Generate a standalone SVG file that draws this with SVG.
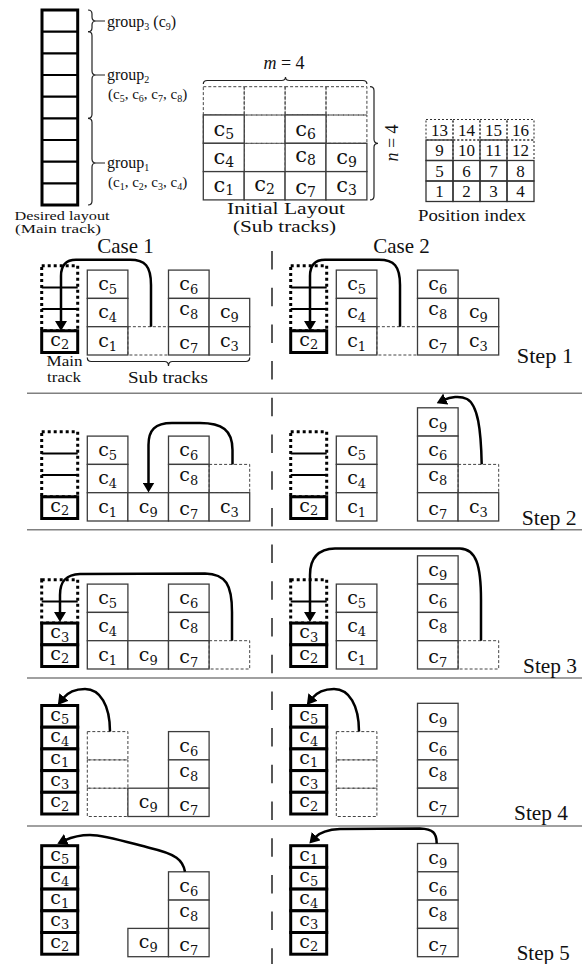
<svg xmlns="http://www.w3.org/2000/svg" width="585" height="964" viewBox="0 0 585 964">
<defs>
<marker id="ah" viewBox="0 0 10 12" markerWidth="10" markerHeight="12" refX="2" refY="6" orient="auto" markerUnits="userSpaceOnUse"><path d="M0,0 L10,6 L0,12 z" fill="#000"/></marker>
</defs>
<style>
.t{font-family:"Liberation Serif","Times New Roman",serif;fill:#111}
.c{font-family:"DejaVu Serif",serif;font-size:19px;text-anchor:middle;fill:#111}
.ci{font-family:"DejaVu Serif",serif;font-size:21px;text-anchor:middle;fill:#111}
.s{font-size:13px}
.si{font-size:14px}
.g{font-size:10px}
.sc{fill:#fff;stroke:#3c3c3c;stroke-width:1.3}
.dc{fill:none;stroke:#444;stroke-width:1;stroke-dasharray:3 2}
.mc{fill:#fff;stroke:#000;stroke-width:3}
.md{fill:none;stroke:#000;stroke-width:3;stroke-dasharray:3 3}
.ml{stroke:#000;stroke-width:2}
.arr{fill:none;stroke:#000;stroke-width:2.5;marker-end:url(#ah)}
.br{fill:none;stroke:#222;stroke-width:1.2}
.sep{stroke:#808080;stroke-width:1.6}
.div{stroke:#222;stroke-width:1.5;stroke-dasharray:18.5 18.2}
.pd{fill:none;stroke:#333;stroke-width:1.1;stroke-dasharray:2 2}
.ps{fill:none;stroke:#333;stroke-width:1.3}
.n{font-family:"Liberation Serif",serif;font-size:17px;text-anchor:middle;fill:#111}
</style>

<!-- ===== Top: desired layout ===== -->
<g id="desired-layout">
<rect x="42" y="10" width="35.7" height="195" fill="#fff" stroke="#000" stroke-width="3"/>
<path d="M42,31.7H77.7M42,53.3H77.7M42,75H77.7M42,96.7H77.7M42,118.3H77.7M42,140H77.7M42,161.7H77.7M42,183.3H77.7" stroke="#000" stroke-width="2.2"/>
<text class="t" x="62" y="219.5" font-size="13" text-anchor="middle" textLength="95" lengthAdjust="spacingAndGlyphs">Desired layout</text>
<text class="t" x="58" y="233" font-size="12" text-anchor="middle" textLength="86" lengthAdjust="spacingAndGlyphs">(Main track)</text>
</g>
<g id="group3">
<path class="br" d="M88,10 Q92,10 92,14 L92,17 Q92,21 96,21 Q92,21 92,25 L92,27.7 Q92,31.7 88,31.7 M96,21 L105,21"/>
<text class="t" x="107" y="26.5" font-size="16">group<tspan class="g" dy="3">3</tspan><tspan dy="-3"> (c</tspan><tspan class="g" dy="3">9</tspan><tspan dy="-3">)</tspan></text>
</g>
<g id="group2">
<path class="br" d="M88,31.7 Q92,31.7 92,35.7 L92,71 Q92,75 96,75 Q92,75 92,79 L92,114.3 Q92,118.3 88,118.3 M96,75 L105,75"/>
<text class="t" x="107" y="80" font-size="16">group<tspan class="g" dy="3">2</tspan></text>
<text class="t" x="108" y="99" font-size="15">(c<tspan class="g" dy="3">5</tspan><tspan dy="-3">, c</tspan><tspan class="g" dy="3">6</tspan><tspan dy="-3">, c</tspan><tspan class="g" dy="3">7</tspan><tspan dy="-3">, c</tspan><tspan class="g" dy="3">8</tspan><tspan dy="-3">)</tspan></text>
</g>
<g id="group1">
<path class="br" d="M88,118.3 Q92,118.3 92,122.3 L92,159 Q92,163 96,163 Q92,163 92,167 L92,201 Q92,205 88,205 M96,163 L105,163"/>
<text class="t" x="107" y="168" font-size="16">group<tspan class="g" dy="3">1</tspan></text>
<text class="t" x="108" y="187" font-size="15">(c<tspan class="g" dy="3">1</tspan><tspan dy="-3">, c</tspan><tspan class="g" dy="3">2</tspan><tspan dy="-3">, c</tspan><tspan class="g" dy="3">3</tspan><tspan dy="-3">, c</tspan><tspan class="g" dy="3">4</tspan><tspan dy="-3">)</tspan></text>
</g>

<!-- ===== Top: initial layout ===== -->
<g id="initial-layout">
<g>
<rect class="dc" x="203.3" y="86.7" width="40.9" height="28.3"/><rect class="dc" x="244.2" y="86.7" width="40.9" height="28.3"/><rect class="dc" x="285.1" y="86.7" width="40.9" height="28.3"/><rect class="dc" x="326" y="86.7" width="40.9" height="28.3"/>
<rect class="dc" x="203.3" y="115" width="40.9" height="28.3"/><rect class="dc" x="244.2" y="115" width="40.9" height="28.3"/><rect class="dc" x="285.1" y="115" width="40.9" height="28.3"/><rect class="dc" x="326" y="115" width="40.9" height="28.3"/>
<rect class="dc" x="244.2" y="143.3" width="40.9" height="28.3"/>
</g>
<g id="il-c5"><rect class="sc" x="203.3" y="115" width="40.9" height="28.3"/><text class="ci" x="223.8" y="135.5">c<tspan class="si" dy="3">5</tspan></text></g>
<g id="il-c6"><rect class="sc" x="285.1" y="115" width="40.9" height="28.3"/><text class="ci" x="305.6" y="135.5">c<tspan class="si" dy="3">6</tspan></text></g>
<g id="il-c4"><rect class="sc" x="203.3" y="143.3" width="40.9" height="28.3"/><text class="ci" x="223.8" y="163.8">c<tspan class="si" dy="3">4</tspan></text></g>
<g id="il-c8"><rect class="sc" x="285.1" y="143.3" width="40.9" height="28.3"/><text class="ci" x="305.6" y="161.8">c<tspan class="si" dy="3">8</tspan></text></g>
<g id="il-c9"><rect class="sc" x="326" y="143.3" width="40.9" height="28.3"/><text class="ci" x="346.5" y="163.8">c<tspan class="si" dy="3">9</tspan></text></g>
<g id="il-c1"><rect class="sc" x="203.3" y="171.6" width="40.9" height="28.3"/><text class="ci" x="223.8" y="192.1">c<tspan class="si" dy="3">1</tspan></text></g>
<g id="il-c2"><rect class="sc" x="244.2" y="171.6" width="40.9" height="28.3"/><text class="ci" x="264.7" y="191.1">c<tspan class="si" dy="3">2</tspan></text></g>
<g id="il-c7"><rect class="sc" x="285.1" y="171.6" width="40.9" height="28.3"/><text class="ci" x="305.6" y="194.1">c<tspan class="si" dy="3">7</tspan></text></g>
<g id="il-c3"><rect class="sc" x="326" y="171.6" width="40.9" height="28.3"/><text class="ci" x="346.5" y="192.1">c<tspan class="si" dy="3">3</tspan></text></g>
<path class="br" d="M203.3,84 Q203.3,80.5 207.3,80.5 L281.5,80.5 Q285.5,80.5 285.5,77 Q285.5,80.5 289.5,80.5 L362.9,80.5 Q366.9,80.5 366.9,84"/>
<text class="t" x="284" y="69" font-size="18" text-anchor="middle"><tspan font-style="italic">m</tspan> = 4</text>
<path class="br" d="M370,86.7 Q374,86.7 374,90.7 L374,139.3 Q374,143.3 378,143.3 Q374,143.3 374,147.3 L374,195.9 Q374,199.9 370,199.9"/>
<text class="t" transform="translate(398,143) rotate(-90)" font-size="18" text-anchor="middle"><tspan font-style="italic">n</tspan> = 4</text>
<text class="t" x="286" y="213.5" font-size="16" text-anchor="middle" textLength="118" lengthAdjust="spacingAndGlyphs">Initial Layout</text>
<text class="t" x="284.5" y="231.5" font-size="16" text-anchor="middle" textLength="103" lengthAdjust="spacingAndGlyphs">(Sub tracks)</text>
</g>

<!-- ===== Top: position index ===== -->
<g id="position-index">
<rect class="pd" x="426" y="119.5" width="27" height="20.5"/><rect class="pd" x="453" y="119.5" width="27" height="20.5"/><rect class="pd" x="480" y="119.5" width="27" height="20.5"/><rect class="pd" x="507" y="119.5" width="27" height="20.5"/>
<rect class="pd" x="453" y="140" width="27" height="20.5"/><rect class="pd" x="507" y="140" width="27" height="20.5"/>
<rect class="ps" x="426" y="140" width="27" height="20.5"/><rect class="ps" x="480" y="140" width="27" height="20.5"/>
<rect class="ps" x="426" y="160.5" width="27" height="20.5"/><rect class="ps" x="453" y="160.5" width="27" height="20.5"/><rect class="ps" x="480" y="160.5" width="27" height="20.5"/><rect class="ps" x="507" y="160.5" width="27" height="20.5"/>
<rect class="ps" x="426" y="181" width="27" height="20.5"/><rect class="ps" x="453" y="181" width="27" height="20.5"/><rect class="ps" x="480" y="181" width="27" height="20.5"/><rect class="ps" x="507" y="181" width="27" height="20.5"/>
<text class="n" x="439.5" y="136">13</text><text class="n" x="466.5" y="136">14</text><text class="n" x="493.5" y="136">15</text><text class="n" x="520.5" y="136">16</text>
<text class="n" x="439.5" y="156">9</text><text class="n" x="466.5" y="156">10</text><text class="n" x="493.5" y="156">11</text><text class="n" x="520.5" y="156">12</text>
<text class="n" x="439.5" y="176.5">5</text><text class="n" x="466.5" y="176.5">6</text><text class="n" x="493.5" y="176.5">7</text><text class="n" x="520.5" y="176.5">8</text>
<text class="n" x="439.5" y="197">1</text><text class="n" x="466.5" y="197">2</text><text class="n" x="493.5" y="197">3</text><text class="n" x="520.5" y="197">4</text>
<text class="t" x="472" y="220.7" font-size="16" text-anchor="middle" textLength="108" lengthAdjust="spacingAndGlyphs">Position index</text>
</g>

<!-- ===== dividers and labels ===== -->
<g id="frame">
<line class="div" x1="272" y1="251" x2="272" y2="964"/>
<line class="sep" x1="27" y1="393.3" x2="582" y2="393.3"/>
<line class="sep" x1="27" y1="529.7" x2="582" y2="529.7"/>
<line class="sep" x1="27" y1="678" x2="582" y2="678"/>
<line class="sep" x1="27" y1="826" x2="582" y2="826"/>
<text class="t" x="125.5" y="253" font-size="21" text-anchor="middle">Case 1</text>
<text class="t" x="401.5" y="253" font-size="21" text-anchor="middle">Case 2</text>
<text class="t" x="516.7" y="363" font-size="21" textLength="56.6" lengthAdjust="spacingAndGlyphs">Step 1</text>
<text class="t" x="521.7" y="525" font-size="21" textLength="55" lengthAdjust="spacingAndGlyphs">Step 2</text>
<text class="t" x="523" y="673" font-size="21" textLength="54" lengthAdjust="spacingAndGlyphs">Step 3</text>
<text class="t" x="514" y="820" font-size="21" textLength="54" lengthAdjust="spacingAndGlyphs">Step 4</text>
<text class="t" x="516.7" y="960" font-size="21" textLength="53" lengthAdjust="spacingAndGlyphs">Step 5</text>
</g>

<!-- ===== Step 1 ===== -->
<g id="s1-case1">
<g id="s1a-main"><rect class="md" x="41.7" y="265.7" width="36" height="65.1"/><path class="ml" d="M41.7,287.4H77.7M41.7,309.1H77.7"/>
<rect class="mc" x="41.7" y="330.8" width="36" height="21.7"/><text class="c" x="59.7" y="345.8">c<tspan class="s" dy="3.5">2</tspan></text></g>
<g id="s1a-c5"><rect class="sc" x="87.3" y="270.1" width="40.6" height="28.3"/><text class="c" x="107.6" y="290.1">c<tspan class="s" dy="4">5</tspan></text></g>
<g id="s1a-c4"><rect class="sc" x="87.3" y="298.4" width="40.6" height="28.3"/><text class="c" x="107.6" y="318.4">c<tspan class="s" dy="4">4</tspan></text></g>
<g id="s1a-c1"><rect class="sc" x="87.3" y="326.7" width="40.6" height="28.3"/><text class="c" x="107.6" y="346.7">c<tspan class="s" dy="4">1</tspan></text></g>
<rect class="dc" x="127.9" y="326.7" width="40.6" height="28.3"/>
<g id="s1a-c6"><rect class="sc" x="168.5" y="270.1" width="40.6" height="28.3"/><text class="c" x="188.8" y="290.1">c<tspan class="s" dy="4">6</tspan></text></g>
<g id="s1a-c8"><rect class="sc" x="168.5" y="298.4" width="40.6" height="28.3"/><text class="c" x="188.8" y="315.4">c<tspan class="s" dy="4">8</tspan></text></g>
<g id="s1a-c7"><rect class="sc" x="168.5" y="326.7" width="40.6" height="28.3"/><text class="c" x="188.8" y="349.2">c<tspan class="s" dy="4">7</tspan></text></g>
<g id="s1a-c9"><rect class="sc" x="209.1" y="298.4" width="40.6" height="28.3"/><text class="c" x="229.4" y="318.4">c<tspan class="s" dy="4">9</tspan></text></g>
<g id="s1a-c3"><rect class="sc" x="209.1" y="326.7" width="40.6" height="28.3"/><text class="c" x="229.4" y="346.7">c<tspan class="s" dy="4">3</tspan></text></g>
<text class="t" x="64.5" y="366" font-size="14" text-anchor="middle" textLength="36" lengthAdjust="spacingAndGlyphs">Main</text>
<text class="t" x="64" y="382" font-size="14" text-anchor="middle" textLength="34" lengthAdjust="spacingAndGlyphs">track</text>
<path class="br" d="M87.3,357.5 Q87.3,361.5 91.3,361.5 L164.5,361.5 Q168.5,361.5 168.5,366 Q168.5,361.5 172.5,361.5 L245.7,361.5 Q249.7,361.5 249.7,357.5"/>
<text class="t" x="168" y="383" font-size="17" text-anchor="middle" textLength="80" lengthAdjust="spacingAndGlyphs">Sub tracks</text>
</g>
<g id="s1-case2">
<g id="s1b-main"><rect class="md" x="290.7" y="265.7" width="36" height="65.1"/><path class="ml" d="M290.7,287.4H326.7M290.7,309.1H326.7"/>
<rect class="mc" x="290.7" y="330.8" width="36" height="21.7"/><text class="c" x="308.7" y="345.8">c<tspan class="s" dy="3.5">2</tspan></text></g>
<g id="s1b-c5"><rect class="sc" x="336.3" y="270.1" width="40.6" height="28.3"/><text class="c" x="356.6" y="290.1">c<tspan class="s" dy="4">5</tspan></text></g>
<g id="s1b-c4"><rect class="sc" x="336.3" y="298.4" width="40.6" height="28.3"/><text class="c" x="356.6" y="318.4">c<tspan class="s" dy="4">4</tspan></text></g>
<g id="s1b-c1"><rect class="sc" x="336.3" y="326.7" width="40.6" height="28.3"/><text class="c" x="356.6" y="346.7">c<tspan class="s" dy="4">1</tspan></text></g>
<rect class="dc" x="376.9" y="326.7" width="40.6" height="28.3"/>
<g id="s1b-c6"><rect class="sc" x="417.5" y="270.1" width="40.6" height="28.3"/><text class="c" x="437.8" y="290.1">c<tspan class="s" dy="4">6</tspan></text></g>
<g id="s1b-c8"><rect class="sc" x="417.5" y="298.4" width="40.6" height="28.3"/><text class="c" x="437.8" y="315.4">c<tspan class="s" dy="4">8</tspan></text></g>
<g id="s1b-c7"><rect class="sc" x="417.5" y="326.7" width="40.6" height="28.3"/><text class="c" x="437.8" y="349.2">c<tspan class="s" dy="4">7</tspan></text></g>
<g id="s1b-c9"><rect class="sc" x="458.1" y="298.4" width="40.6" height="28.3"/><text class="c" x="478.4" y="318.4">c<tspan class="s" dy="4">9</tspan></text></g>
<g id="s1b-c3"><rect class="sc" x="458.1" y="326.7" width="40.6" height="28.3"/><text class="c" x="478.4" y="346.7">c<tspan class="s" dy="4">3</tspan></text></g>
</g>

<!-- ===== Step 2 ===== -->
<g id="s2-case1">
<g id="s2a-main"><rect class="md" x="41.7" y="431.7" width="36" height="65.1"/><path class="ml" d="M41.7,453.4H77.7M41.7,475.1H77.7"/>
<rect class="mc" x="41.7" y="496.8" width="36" height="21.7"/><text class="c" x="59.7" y="511.8">c<tspan class="s" dy="3.5">2</tspan></text></g>
<g id="s2a-c5"><rect class="sc" x="87.3" y="436.1" width="40.6" height="28.3"/><text class="c" x="107.6" y="456.1">c<tspan class="s" dy="4">5</tspan></text></g>
<g id="s2a-c4"><rect class="sc" x="87.3" y="464.4" width="40.6" height="28.3"/><text class="c" x="107.6" y="484.4">c<tspan class="s" dy="4">4</tspan></text></g>
<g id="s2a-c1"><rect class="sc" x="87.3" y="492.7" width="40.6" height="28.3"/><text class="c" x="107.6" y="512.7">c<tspan class="s" dy="4">1</tspan></text></g>
<g id="s2a-c9"><rect class="sc" x="127.9" y="492.7" width="40.6" height="28.3"/><text class="c" x="148.2" y="512.7">c<tspan class="s" dy="4">9</tspan></text></g>
<g id="s2a-c6"><rect class="sc" x="168.5" y="436.1" width="40.6" height="28.3"/><text class="c" x="188.8" y="456.1">c<tspan class="s" dy="4">6</tspan></text></g>
<g id="s2a-c8"><rect class="sc" x="168.5" y="464.4" width="40.6" height="28.3"/><text class="c" x="188.8" y="481.4">c<tspan class="s" dy="4">8</tspan></text></g>
<g id="s2a-c7"><rect class="sc" x="168.5" y="492.7" width="40.6" height="28.3"/><text class="c" x="188.8" y="515.2">c<tspan class="s" dy="4">7</tspan></text></g>
<rect class="dc" x="209.1" y="464.4" width="40.6" height="28.3"/>
<g id="s2a-c3"><rect class="sc" x="209.1" y="492.7" width="40.6" height="28.3"/><text class="c" x="229.4" y="512.7">c<tspan class="s" dy="4">3</tspan></text></g>
</g>
<g id="s2-case2">
<g id="s2b-main"><rect class="md" x="290.7" y="431.7" width="36" height="65.1"/><path class="ml" d="M290.7,453.4H326.7M290.7,475.1H326.7"/>
<rect class="mc" x="290.7" y="496.8" width="36" height="21.7"/><text class="c" x="308.7" y="511.8">c<tspan class="s" dy="3.5">2</tspan></text></g>
<g id="s2b-c5"><rect class="sc" x="336.3" y="436.1" width="40.6" height="28.3"/><text class="c" x="356.6" y="456.1">c<tspan class="s" dy="4">5</tspan></text></g>
<g id="s2b-c4"><rect class="sc" x="336.3" y="464.4" width="40.6" height="28.3"/><text class="c" x="356.6" y="484.4">c<tspan class="s" dy="4">4</tspan></text></g>
<g id="s2b-c1"><rect class="sc" x="336.3" y="492.7" width="40.6" height="28.3"/><text class="c" x="356.6" y="512.7">c<tspan class="s" dy="4">1</tspan></text></g>
<g id="s2b-c9"><rect class="sc" x="417.5" y="407.8" width="40.6" height="28.3"/><text class="c" x="437.8" y="427.8">c<tspan class="s" dy="4">9</tspan></text></g>
<g id="s2b-c6"><rect class="sc" x="417.5" y="436.1" width="40.6" height="28.3"/><text class="c" x="437.8" y="456.1">c<tspan class="s" dy="4">6</tspan></text></g>
<g id="s2b-c8"><rect class="sc" x="417.5" y="464.4" width="40.6" height="28.3"/><text class="c" x="437.8" y="481.4">c<tspan class="s" dy="4">8</tspan></text></g>
<g id="s2b-c7"><rect class="sc" x="417.5" y="492.7" width="40.6" height="28.3"/><text class="c" x="437.8" y="515.2">c<tspan class="s" dy="4">7</tspan></text></g>
<rect class="dc" x="458.1" y="464.4" width="40.6" height="28.3"/>
<g id="s2b-c3"><rect class="sc" x="458.1" y="492.7" width="40.6" height="28.3"/><text class="c" x="478.4" y="512.7">c<tspan class="s" dy="4">3</tspan></text></g>
</g>

<!-- ===== Step 3 ===== -->
<g id="s3-case1">
<g id="s3a-main"><rect class="md" x="41.7" y="579.7" width="36" height="43.4"/><path class="ml" d="M41.7,601.4H77.7"/>
<rect class="mc" x="41.7" y="623.1" width="36" height="21.7"/><text class="c" x="59.7" y="638.1">c<tspan class="s" dy="3.5">3</tspan></text>
<rect class="mc" x="41.7" y="644.8" width="36" height="21.7"/><text class="c" x="59.7" y="659.8">c<tspan class="s" dy="3.5">2</tspan></text></g>
<g id="s3a-c5"><rect class="sc" x="87.3" y="584.1" width="40.6" height="28.3"/><text class="c" x="107.6" y="604.1">c<tspan class="s" dy="4">5</tspan></text></g>
<g id="s3a-c4"><rect class="sc" x="87.3" y="612.4" width="40.6" height="28.3"/><text class="c" x="107.6" y="632.4">c<tspan class="s" dy="4">4</tspan></text></g>
<g id="s3a-c1"><rect class="sc" x="87.3" y="640.7" width="40.6" height="28.3"/><text class="c" x="107.6" y="660.7">c<tspan class="s" dy="4">1</tspan></text></g>
<g id="s3a-c9"><rect class="sc" x="127.9" y="640.7" width="40.6" height="28.3"/><text class="c" x="148.2" y="660.7">c<tspan class="s" dy="4">9</tspan></text></g>
<g id="s3a-c6"><rect class="sc" x="168.5" y="584.1" width="40.6" height="28.3"/><text class="c" x="188.8" y="604.1">c<tspan class="s" dy="4">6</tspan></text></g>
<g id="s3a-c8"><rect class="sc" x="168.5" y="612.4" width="40.6" height="28.3"/><text class="c" x="188.8" y="629.4">c<tspan class="s" dy="4">8</tspan></text></g>
<g id="s3a-c7"><rect class="sc" x="168.5" y="640.7" width="40.6" height="28.3"/><text class="c" x="188.8" y="663.2">c<tspan class="s" dy="4">7</tspan></text></g>
<rect class="dc" x="209.1" y="640.7" width="40.6" height="28.3"/>
</g>
<g id="s3-case2">
<g id="s3b-main"><rect class="md" x="290.7" y="579.7" width="36" height="43.4"/><path class="ml" d="M290.7,601.4H326.7"/>
<rect class="mc" x="290.7" y="623.1" width="36" height="21.7"/><text class="c" x="308.7" y="638.1">c<tspan class="s" dy="3.5">3</tspan></text>
<rect class="mc" x="290.7" y="644.8" width="36" height="21.7"/><text class="c" x="308.7" y="659.8">c<tspan class="s" dy="3.5">2</tspan></text></g>
<g id="s3b-c5"><rect class="sc" x="336.3" y="584.1" width="40.6" height="28.3"/><text class="c" x="356.6" y="604.1">c<tspan class="s" dy="4">5</tspan></text></g>
<g id="s3b-c4"><rect class="sc" x="336.3" y="612.4" width="40.6" height="28.3"/><text class="c" x="356.6" y="632.4">c<tspan class="s" dy="4">4</tspan></text></g>
<g id="s3b-c1"><rect class="sc" x="336.3" y="640.7" width="40.6" height="28.3"/><text class="c" x="356.6" y="660.7">c<tspan class="s" dy="4">1</tspan></text></g>
<g id="s3b-c9"><rect class="sc" x="417.5" y="555.8" width="40.6" height="28.3"/><text class="c" x="437.8" y="575.8">c<tspan class="s" dy="4">9</tspan></text></g>
<g id="s3b-c6"><rect class="sc" x="417.5" y="584.1" width="40.6" height="28.3"/><text class="c" x="437.8" y="604.1">c<tspan class="s" dy="4">6</tspan></text></g>
<g id="s3b-c8"><rect class="sc" x="417.5" y="612.4" width="40.6" height="28.3"/><text class="c" x="437.8" y="629.4">c<tspan class="s" dy="4">8</tspan></text></g>
<g id="s3b-c7"><rect class="sc" x="417.5" y="640.7" width="40.6" height="28.3"/><text class="c" x="437.8" y="663.2">c<tspan class="s" dy="4">7</tspan></text></g>
<rect class="dc" x="458.1" y="640.7" width="40.6" height="28.3"/>
</g>

<!-- ===== Step 4 ===== -->
<g id="s4-case1">
<g id="s4a-main">
<rect class="mc" x="41.7" y="705.5" width="36" height="21.7"/><text class="c" x="59.7" y="720.5">c<tspan class="s" dy="3.5">5</tspan></text>
<rect class="mc" x="41.7" y="727.2" width="36" height="21.7"/><text class="c" x="59.7" y="742.2">c<tspan class="s" dy="3.5">4</tspan></text>
<rect class="mc" x="41.7" y="748.9" width="36" height="21.7"/><text class="c" x="59.7" y="763.9">c<tspan class="s" dy="3.5">1</tspan></text>
<rect class="mc" x="41.7" y="770.6" width="36" height="21.7"/><text class="c" x="59.7" y="785.6">c<tspan class="s" dy="3.5">3</tspan></text>
<rect class="mc" x="41.7" y="792.3" width="36" height="21.7"/><text class="c" x="59.7" y="807.3">c<tspan class="s" dy="3.5">2</tspan></text>
</g>
<rect class="dc" x="87.3" y="731.6" width="40.6" height="28.3"/><rect class="dc" x="87.3" y="759.9" width="40.6" height="28.3"/><rect class="dc" x="87.3" y="788.2" width="40.6" height="28.3"/>
<g id="s4a-c9"><rect class="sc" x="127.9" y="788.2" width="40.6" height="28.3"/><text class="c" x="148.2" y="808.2">c<tspan class="s" dy="4">9</tspan></text></g>
<g id="s4a-c6"><rect class="sc" x="168.5" y="731.6" width="40.6" height="28.3"/><text class="c" x="188.8" y="751.6">c<tspan class="s" dy="4">6</tspan></text></g>
<g id="s4a-c8"><rect class="sc" x="168.5" y="759.9" width="40.6" height="28.3"/><text class="c" x="188.8" y="776.9">c<tspan class="s" dy="4">8</tspan></text></g>
<g id="s4a-c7"><rect class="sc" x="168.5" y="788.2" width="40.6" height="28.3"/><text class="c" x="188.8" y="810.7">c<tspan class="s" dy="4">7</tspan></text></g>
</g>
<g id="s4-case2">
<g id="s4b-main">
<rect class="mc" x="290.7" y="705.5" width="36" height="21.7"/><text class="c" x="308.7" y="720.5">c<tspan class="s" dy="3.5">5</tspan></text>
<rect class="mc" x="290.7" y="727.2" width="36" height="21.7"/><text class="c" x="308.7" y="742.2">c<tspan class="s" dy="3.5">4</tspan></text>
<rect class="mc" x="290.7" y="748.9" width="36" height="21.7"/><text class="c" x="308.7" y="763.9">c<tspan class="s" dy="3.5">1</tspan></text>
<rect class="mc" x="290.7" y="770.6" width="36" height="21.7"/><text class="c" x="308.7" y="785.6">c<tspan class="s" dy="3.5">3</tspan></text>
<rect class="mc" x="290.7" y="792.3" width="36" height="21.7"/><text class="c" x="308.7" y="807.3">c<tspan class="s" dy="3.5">2</tspan></text>
</g>
<rect class="dc" x="336.3" y="731.6" width="40.6" height="28.3"/><rect class="dc" x="336.3" y="759.9" width="40.6" height="28.3"/><rect class="dc" x="336.3" y="788.2" width="40.6" height="28.3"/>
<g id="s4b-c9"><rect class="sc" x="417.5" y="703.3" width="40.6" height="28.3"/><text class="c" x="437.8" y="723.3">c<tspan class="s" dy="4">9</tspan></text></g>
<g id="s4b-c6"><rect class="sc" x="417.5" y="731.6" width="40.6" height="28.3"/><text class="c" x="437.8" y="751.6">c<tspan class="s" dy="4">6</tspan></text></g>
<g id="s4b-c8"><rect class="sc" x="417.5" y="759.9" width="40.6" height="28.3"/><text class="c" x="437.8" y="776.9">c<tspan class="s" dy="4">8</tspan></text></g>
<g id="s4b-c7"><rect class="sc" x="417.5" y="788.2" width="40.6" height="28.3"/><text class="c" x="437.8" y="810.7">c<tspan class="s" dy="4">7</tspan></text></g>
</g>

<!-- ===== Step 5 ===== -->
<g id="s5-case1">
<g id="s5a-main">
<rect class="mc" x="41.7" y="845.7" width="36" height="21.7"/><text class="c" x="59.7" y="860.7">c<tspan class="s" dy="3.5">5</tspan></text>
<rect class="mc" x="41.7" y="867.4" width="36" height="21.7"/><text class="c" x="59.7" y="882.4">c<tspan class="s" dy="3.5">4</tspan></text>
<rect class="mc" x="41.7" y="889.1" width="36" height="21.7"/><text class="c" x="59.7" y="904.1">c<tspan class="s" dy="3.5">1</tspan></text>
<rect class="mc" x="41.7" y="910.8" width="36" height="21.7"/><text class="c" x="59.7" y="925.8">c<tspan class="s" dy="3.5">3</tspan></text>
<rect class="mc" x="41.7" y="932.5" width="36" height="21.7"/><text class="c" x="59.7" y="947.5">c<tspan class="s" dy="3.5">2</tspan></text>
</g>
<g id="s5a-c9"><rect class="sc" x="127.9" y="928.4" width="40.6" height="28.3"/><text class="c" x="148.2" y="948.4">c<tspan class="s" dy="4">9</tspan></text></g>
<g id="s5a-c6"><rect class="sc" x="168.5" y="871.8" width="40.6" height="28.3"/><text class="c" x="188.8" y="891.8">c<tspan class="s" dy="4">6</tspan></text></g>
<g id="s5a-c8"><rect class="sc" x="168.5" y="900.1" width="40.6" height="28.3"/><text class="c" x="188.8" y="917.1">c<tspan class="s" dy="4">8</tspan></text></g>
<g id="s5a-c7"><rect class="sc" x="168.5" y="928.4" width="40.6" height="28.3"/><text class="c" x="188.8" y="950.9">c<tspan class="s" dy="4">7</tspan></text></g>
</g>
<g id="s5-case2">
<g id="s5b-main">
<rect class="mc" x="290.7" y="845.7" width="36" height="21.7"/><text class="c" x="308.7" y="860.7">c<tspan class="s" dy="3.5">1</tspan></text>
<rect class="mc" x="290.7" y="867.4" width="36" height="21.7"/><text class="c" x="308.7" y="882.4">c<tspan class="s" dy="3.5">5</tspan></text>
<rect class="mc" x="290.7" y="889.1" width="36" height="21.7"/><text class="c" x="308.7" y="904.1">c<tspan class="s" dy="3.5">4</tspan></text>
<rect class="mc" x="290.7" y="910.8" width="36" height="21.7"/><text class="c" x="308.7" y="925.8">c<tspan class="s" dy="3.5">3</tspan></text>
<rect class="mc" x="290.7" y="932.5" width="36" height="21.7"/><text class="c" x="308.7" y="947.5">c<tspan class="s" dy="3.5">2</tspan></text>
</g>
<g id="s5b-c9"><rect class="sc" x="417.5" y="843.5" width="40.6" height="28.3"/><text class="c" x="437.8" y="863.5">c<tspan class="s" dy="4">9</tspan></text></g>
<g id="s5b-c6"><rect class="sc" x="417.5" y="871.8" width="40.6" height="28.3"/><text class="c" x="437.8" y="891.8">c<tspan class="s" dy="4">6</tspan></text></g>
<g id="s5b-c8"><rect class="sc" x="417.5" y="900.1" width="40.6" height="28.3"/><text class="c" x="437.8" y="917.1">c<tspan class="s" dy="4">8</tspan></text></g>
<g id="s5b-c7"><rect class="sc" x="417.5" y="928.4" width="40.6" height="28.3"/><text class="c" x="437.8" y="950.9">c<tspan class="s" dy="4">7</tspan></text></g>
</g>

<!-- ===== connectors ===== -->
<g id="connectors">
<path class="arr" d="M151,326.7 L151,285 C151,266 145,259.7 130,259.7 L76,259.7 C66,259.7 61,265 61,276 L61,323"/>
<path class="arr" d="M400,326.7 L400,285 C400,266 394,259.7 379,259.7 L325,259.7 C315,259.7 310,265 310,276 L310,323"/>
<path class="arr" d="M232.5,464.4 L232.5,450 C232.5,430 222,423 200,423 L172,423 C155,423 148.5,430 148.5,445 L148.5,484.5"/>
<path class="arr" d="M481.7,464.4 C481,430 478,405 467,399 C460,395.5 450,397 443.9,399.9"/>
<path class="arr" d="M232,640.7 L232,612 C232,585 226,574 205,573.5 L80,574 C66,574.5 60,581 60,595 L60,614"/>
<path class="arr" d="M481,640.7 L481,600 C481,565 476,549 460,548.5 L335,548.5 C318,549 310,558 310,575 L310,614"/>
<path class="arr" d="M110,731.6 C110,705 100,689 85,689 C75,689 68,692 62.8,698.6"/>
<path class="arr" d="M359,731.6 C359,705 349,689 334,689 C324,689 317,692 311.8,698.6"/>
<path class="arr" d="M185,871.8 C183,860 176,854 150,848 C130,843 105,835 90,835 C80,835 72,837 64.6,840.4"/>
<path class="arr" d="M436.7,843.5 C436.7,833 433,829 420,828.5 L340,829 C328,829.5 320,832 314.8,837.6"/>
</g>
</svg>
